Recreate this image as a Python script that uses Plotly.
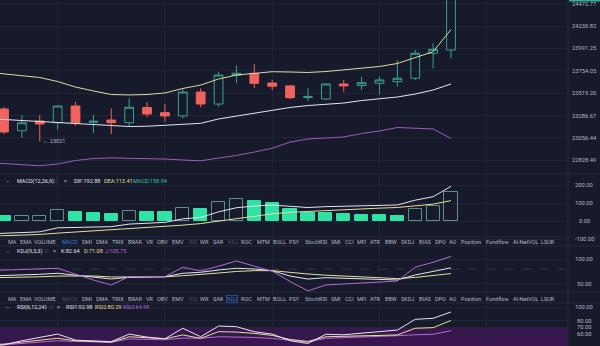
import math
import plotly.graph_objects as go

# ---------------- data ----------------
# candle index (0 = first visible bar); line series carry one extra leading bar
bars = list(range(26))
line_bars = list(range(-1, 26))

open_ = [23354, 23130, 23230, 23212, 23385, 23217, 23240, 23212, 23370, 23316, 23282, 23531, 23406,
         23706, 23727, 23625, 23595, 23474, 23458, 23615, 23598, 23622, 23639, 23675, 23939, 23974]
close = [23117, 23212, 23199, 23385, 23212, 23227, 23212, 23372, 23302, 23282, 23531, 23406, 23709,
         23727, 23622, 23591, 23471, 23482, 23615, 23595, 23628, 23657, 23675, 23939, 23982, 24530]
high = [23375, 23292, 23292, 23396, 23430, 23292, 23359, 23465, 23427, 23406, 23570, 23570, 23744,
        23810, 23823, 23660, 23604, 23570, 23622, 23657, 23692, 23692, 23868, 23974, 24045, 24560]
low = [23096, 23055, 23021, 23137, 23179, 23107, 23096, 23168, 23271, 23223, 23258, 23372, 23378,
       23622, 23573, 23549, 23458, 23437, 23448, 23534, 23552, 23507, 23587, 23657, 23780, 23886]

boll_up = [23740, 23720, 23699, 23683, 23641, 23583, 23542, 23505, 23500, 23505, 23521, 23568, 23604,
           23667, 23709, 23730, 23744, 23741, 23736, 23746, 23762, 23783, 23799, 23831, 23894, 23956, 24193]
boll_mid = [23256, 23246, 23235, 23223, 23212, 23202, 23192, 23179, 23173, 23176, 23184, 23194, 23206,
            23251, 23282, 23313, 23344, 23370, 23390, 23403, 23416, 23442, 23458, 23479, 23510, 23552, 23615]
boll_low = [22806, 22796, 22781, 22773, 22791, 22826, 22846, 22853, 22848, 22846, 22841, 22831, 22823,
            22851, 22877, 22912, 22950, 23014, 23045, 23055, 23066, 23101, 23127, 23163, 23158, 23148, 23050]

dif = [-72.0, -68.5, -64.5, -60.3, -38.0, -36.2, -34.3, -31.5, -17.2, -11.7, -7.7, 12.0, 20.2, 50.7,
       73.7, 83.0, 88.8, 81.7, 75.0, 79.8, 81.9, 84.0, 87.5, 89.0, 115.7, 135.0, 192.88]
dea = [-85.3, -82.0, -78.5, -74.8, -67.5, -61.2, -55.8, -51.0, -44.2, -37.7, -31.7, -23.0, -14.3, -1.3,
       13.7, 27.5, 39.8, 48.2, 53.5, 58.8, 63.4, 67.5, 71.5, 75.0, 83.2, 93.5, 113.41]
macd_hist = [27, 28, 29, 59, 50, 43, 39, 54, 52, 48, 70, 69, 104, 120, 111, 98, 67, 43, 42, 37, 33, 32,
             28, 65, 83, 158.94]

kdj_k = [66.0, 66.8, 68.2, 69.6, 71.7, 68.2, 64.8, 60.1, 63.5, 64.8, 64.8, 71.7, 73.7, 78.3, 81.8, 80.4,
         76.9, 66.0, 60.0, 62.8, 61.5, 60.1, 59.5, 58.1, 68.2, 74.9, 82.64]
kdj_d = [62.5, 62.8, 63.5, 64.5, 66.0, 66.8, 66.2, 64.2, 64.0, 64.2, 64.4, 66.8, 69.1, 72.2, 75.4, 77.0,
         77.0, 73.0, 70.2, 67.8, 65.7, 63.8, 62.4, 60.9, 63.3, 67.2, 71.08]
kdj_j = [77.0, 78.0, 79.0, 80.5, 81.8, 70.0, 58.0, 48.0, 65.0, 65.0, 65.0, 83.8, 76.3, 86.0, 96.6, 86.0,
         76.0, 55.0, 36.0, 48.0, 50.0, 52.0, 54.0, 56.0, 84.0, 94.0, 105.75]

rsi1 = [42, 44, 50, 55, 60, 51, 50, 48.7, 60, 55.5, 53, 68.7, 56, 72, 71, 63.5, 60, 50, 46, 59.7, 59, 61,
        63, 66, 82, 83.6, 92.98]
rsi2 = [44, 45, 48, 51, 53.7, 50, 49, 47.8, 56, 54, 53, 58.7, 53.7, 63.6, 63, 61, 58, 52, 49, 56, 56.5,
        57, 58, 58.7, 68.7, 69.6, 80.29]
rsi3 = [43.5, 44, 46, 48, 50, 49, 48.5, 48, 52.7, 52, 51.5, 54, 53.7, 56, 56, 55, 53.5, 51, 48, 53.7,
        54.5, 55.5, 56.5, 57.6, 59, 59.7, 64.99]

price_ticks = [24472.77, 24230.82, 23991.25, 23754.05, 23519.20, 23286.67, 23056.44, 22828.49]
macd_ticks = [200, 100, 0, -100]
kdj_ticks = [100, 50]
rsi_ticks = [100, 80, 70, 60]

tab_names = ["MA", "EMA", "VOLUME", "MACD", "DMI", "DMA", "TRIX", "BRAR", "VR", "OBV", "EMV", "RSI",
             "WR", "SAR", "KDJ", "ROC", "MTM", "BOLL", "PSY", "StochRSI", "SMI", "CCI", "MFI", "ATR",
             "BBW", "SKDJ", "BIAS", "DPO", "AO", "Position", "Fundflow", "AI-NetVOL", "LSUR"]

# ---------------- styling ----------------
W, H = 600, 346
PW = 568                      # width of the plotting area (axis column on the right)
BG = "#161a2b"
GRID = "#1f2437"
UP = "#3aa191"
DN = "#f0635f"
MINT = "#2fe3a4"
WHITE = "#e4e6ee"
YELLOW = "#e8df9a"
PURPLE = "#b56ad6"
TXT = "#b4b8c8"
DIM = "#4c5168"
BLUE = "#3f7fe0"
FONT = "Roboto"
FS = 5.5                      # header / tab text size
AXFS = 5.8                    # axis label size

# pane bands in pixels from the top
PANES = {"y": (0, 172), "y2": (176, 246), "y3": (246, 303), "y4": (303, 346)}


def dom(key):
    a, b = PANES[key]
    return [1 - b / H, 1 - a / H]


fig = go.Figure()

# price pane
fig.add_trace(go.Candlestick(
    x=bars, open=open_, high=high, low=low, close=close,
    increasing=dict(line=dict(color=UP, width=1), fillcolor="rgba(0,0,0,0)"),
    decreasing=dict(line=dict(color=DN, width=1), fillcolor=DN),
    whiskerwidth=0, hoverinfo="skip", showlegend=False, xaxis="x", yaxis="y"))
for series, col in ((boll_up, "#dcdca4"), (boll_mid, WHITE), (boll_low, "#9e5cb8")):
    fig.add_trace(go.Scatter(x=line_bars, y=series, mode="lines", line=dict(color=col, width=1),
                             hoverinfo="skip", showlegend=False, xaxis="x", yaxis="y"))

# MACD pane: filled bar when the histogram shrinks, hollow when it grows
fills, edges = [], []
for i, v in enumerate(macd_hist):
    rising = i > 0 and v > macd_hist[i - 1]
    fills.append("rgba(0,0,0,0)" if rising else MINT)
    edges.append("#5f8e8b" if rising else MINT)
fig.add_trace(go.Bar(x=bars, y=macd_hist, width=0.74, marker=dict(color=fills, line=dict(color=edges, width=1)),
                     hoverinfo="skip", showlegend=False, xaxis="x", yaxis="y2"))
fig.add_trace(go.Scatter(x=line_bars, y=dif, mode="lines", line=dict(color=WHITE, width=1),
                         hoverinfo="skip", showlegend=False, xaxis="x", yaxis="y2"))
fig.add_trace(go.Scatter(x=line_bars, y=dea, mode="lines", line=dict(color=YELLOW, width=1),
                         hoverinfo="skip", showlegend=False, xaxis="x", yaxis="y2"))

# KDJ pane
for series, col in ((kdj_d, YELLOW), (kdj_k, WHITE), (kdj_j, PURPLE)):
    fig.add_trace(go.Scatter(x=line_bars, y=series, mode="lines", line=dict(color=col, width=1),
                             hoverinfo="skip", showlegend=False, xaxis="x", yaxis="y3"))

# RSI pane
for series, col in ((rsi3, PURPLE), (rsi2, YELLOW), (rsi1, WHITE)):
    fig.add_trace(go.Scatter(x=line_bars, y=series, mode="lines", line=dict(color=col, width=1),
                             hoverinfo="skip", showlegend=False, xaxis="x", yaxis="y4"))

x_left = -4 / 17.88
x_right = x_left + PW / 17.88
log_top = math.log10(24230.82) + 26 * 0.00019283
log_bot = math.log10(24230.82) - 146 * 0.00019283


def yax(key, rng, ticks, **kw):
    d = dict(domain=dom(key), range=rng, anchor="x", side="right", showticklabels=False,
             tickvals=ticks, showgrid=True, gridcolor=GRID, gridwidth=1, zeroline=False,
             showline=False, fixedrange=True)
    d.update(kw)
    return d


fig.update_layout(
    width=W, height=H, margin=dict(l=0, r=W - PW, t=0, b=0),
    paper_bgcolor=BG, plot_bgcolor=BG, showlegend=False, bargap=0,
    font=dict(family=FONT, size=6, color=TXT),
    xaxis=dict(domain=[0, 1], range=[x_left, x_right], showticklabels=False, tickvals=[3, 9, 15, 21, 27],
               showgrid=True, gridcolor=GRID, zeroline=False, showline=False,
               rangeslider=dict(visible=False), fixedrange=True),
    yaxis=yax("y", [log_bot, log_top], price_ticks, type="log"),
    yaxis2=yax("y2", [-138.9, 250], macd_ticks),
    yaxis3=yax("y3", [11.5, 126.9], kdj_ticks),
    yaxis4=yax("y4", [42.2, 106.4], rsi_ticks),
)

shapes = []
# RSI 30-70 band
shapes.append(dict(type="rect", xref="paper", x0=0, x1=1, yref="y4", y0=30, y1=70,
                   fillcolor="#3a1650", line=dict(width=0), layer="below"))
# KDJ 80 level
shapes.append(dict(type="line", xref="paper", x0=0, x1=1, yref="y3", y0=80, y1=80,
                   line=dict(color="#33384d", width=1, dash="dash"), layer="below"))
# separators
for ypx in (174, 237, 246, 292, 303):
    shapes.append(dict(type="line", xref="paper", x0=0, x1=W / PW, yref="paper",
                       y0=1 - ypx / H, y1=1 - ypx / H, line=dict(color="#242939", width=1)))
shapes.append(dict(type="line", xref="paper", x0=1, x1=1, yref="paper", y0=0, y1=1,
                   line=dict(color="#2a2f42", width=1)))
# last-price tag peeking in at the top of the axis column
shapes.append(dict(type="rect", xref="paper", x0=1.002, x1=W / PW, yref="paper", y0=1 - 1.5 / H, y1=1,
                   fillcolor="#2bb592", line=dict(width=0)))
fig.update_layout(shapes=shapes)

ann = []


def px_text(xpx, ypx, text, color=TXT, size=FS, anchor="left", **kw):
    ann.append(dict(xref="paper", yref="paper", x=xpx / PW, y=1 - ypx / H, text=text, showarrow=False,
                    xanchor=anchor, yanchor="middle", font=dict(color=color, size=size, family=FONT), **kw))


# axis labels, centred in the right-hand column
AX_X = 584 / PW
for v in price_ticks:
    ann.append(dict(xref="paper", yref="y", x=AX_X, y=math.log10(v), text=f"{v:.2f}", showarrow=False,
                    xanchor="center", yanchor="middle", font=dict(color=TXT, size=AXFS, family=FONT)))
for key, ticks in (("y2", macd_ticks), ("y3", kdj_ticks), ("y4", rsi_ticks)):
    for v in ticks:
        ann.append(dict(xref="paper", yref=key, x=AX_X, y=v, text=f"{v:.2f}", showarrow=False,
                        xanchor="center", yanchor="middle", font=dict(color=TXT, size=AXFS, family=FONT)))

# lowest low marker
lo_i = low.index(min(low))
ann.append(dict(xref="x", yref="y", x=lo_i, y=math.log10(low[lo_i]), text=f"← {min(low):.0f}",
                showarrow=False, xanchor="left", yanchor="middle", xshift=1,
                font=dict(color=TXT, size=FS, family=FONT)))

# indicator header rows
px_text(8, 181, "–", anchor="center")
px_text(15, 181, "MACD(12,26,9)", WHITE)
px_text(56, 181, "⊙", DIM, anchor="center")
px_text(65, 181, "×", TXT, anchor="center")
px_text(72, 181, f"DIF:{dif[-1]:.2f}", WHITE)
px_text(102, 181, f"DEA:{dea[-1]:.2f}", YELLOW)
px_text(131, 181, f"MACD:{macd_hist[-1]:.2f}", "#37c9a0")

px_text(8, 251, "–", anchor="center")
px_text(15, 251, "KDJ(9,3,3)", WHITE)
px_text(46, 251, "⊙", DIM, anchor="center")
px_text(54, 251, "×", TXT, anchor="center")
px_text(59, 251, f"K:{kdj_k[-1]:.2f}", WHITE)
px_text(82, 251, f"D:{kdj_d[-1]:.2f}", YELLOW)
px_text(103, 251, f"J:{kdj_j[-1]:.2f}", PURPLE)

px_text(8, 307, "–", anchor="center")
px_text(15, 307, "RSI(6,12,24)", WHITE)
px_text(51, 307, "⊙", DIM, anchor="center")
px_text(58, 307, "×", TXT, anchor="center")
px_text(64, 307, f"RSI1:{rsi1[-1]:.2f}", WHITE)
px_text(93, 307, f"RSI2:{rsi2[-1]:.2f}", YELLOW)
px_text(121, 307, f"RSI3:{rsi3[-1]:.2f}", PURPLE)

# indicator tab strips
tab_x = [6, 18, 32, 60, 80, 94, 110, 126, 144, 155, 170, 187, 198, 211, 226, 239, 255, 271, 287, 303,
         329, 343, 355, 368, 383, 399, 417, 433, 447, 459, 484, 511, 539]
row_styles = [
    (242, {"MACD": BLUE, "RSI": DIM, "KDJ": DIM}, None),
    (299, {"MACD": DIM, "RSI": DIM, "KDJ": BLUE}, "KDJ"),
]
for ypx, colors, boxed in row_styles:
    for name, xl in zip(tab_names, tab_x):
        extra = {}
        if name == boxed:
            extra = dict(bordercolor="#2b4a86", borderwidth=1, borderpad=0)
        px_text(xl, ypx, name, colors.get(name, TXT), **extra)

fig.update_layout(annotations=ann)
fig.write_html("out.html")
